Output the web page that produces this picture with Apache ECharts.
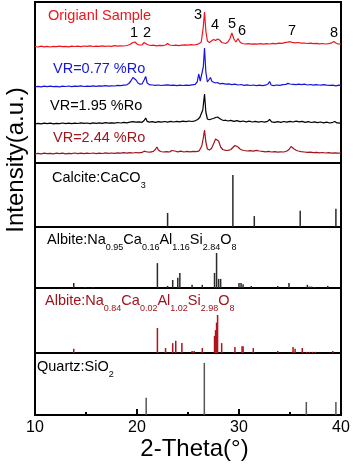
<!DOCTYPE html>
<html>
<head>
<meta charset="utf-8">
<script src="https://cdn.jsdelivr.net/npm/echarts@6/dist/echarts.min.js"></script>
<style>
  html, body { margin: 0; padding: 0; background: #fff; }
  #chart { width: 353px; height: 469px; }
</style>
</head>
<body>
<div id="chart"></div>
<script>
// measured XRD traces: [2-theta, intensity above own baseline]
const originalTrace = [
  [10.0,0.5],[10.3,0],[10.6,0.8],[10.9,0.2],[11.2,0.6],[11.5,0],[11.8,0.7],[12.1,0.3],[12.4,0.9],[12.7,0.4],
  [13.0,0.6],[13.3,0.2],[13.6,0.9],[13.9,0.5],[14.2,0.8],[14.5,0.3],[14.8,1.0],[15.1,0.6],[15.4,1.1],[15.7,0.5],
  [16.0,0.9],[16.3,0.6],[16.6,1.2],[16.9,0.7],[17.2,1.0],[17.5,0.6],[17.8,1.3],[18.1,0.8],[18.4,1.2],[18.7,1.0],
  [19.0,1.5],[19.3,2.5],[19.6,4.5],[19.8,5.0],[20.0,3.0],[20.2,2.0],[20.5,2.2],[20.7,4.5],[20.85,6.0],[21.0,2.5],
  [21.3,1.5],[21.6,1.8],[21.9,1.2],[22.2,1.6],[22.5,1.4],[22.8,2.0],[23.0,3.5],[23.2,2.0],[23.5,1.5],[23.8,1.9],
  [24.1,1.4],[24.4,1.8],[24.7,2.2],[25.0,1.8],[25.3,2.4],[25.6,2.0],[25.9,2.6],[26.1,3.5],[26.3,5],[26.5,20],
  [26.62,35],[26.75,16],[26.9,6],[27.1,4.5],[27.3,6],[27.5,7.5],[27.7,6.5],[27.9,8],[28.1,7],[28.3,4.5],
  [28.5,4],[28.7,3.5],[28.9,5],[29.1,8],[29.3,14],[29.5,8],[29.7,5],[29.9,8.5],[30.1,5],[30.3,3.5],
  [30.6,3],[30.9,3.4],[31.2,2.8],[31.5,3.2],[31.8,2.9],[32.1,3.3],[32.4,2.8],[32.7,3.4],[33.0,3.0],[33.3,3.6],
  [33.6,3.2],[33.9,3.8],[34.2,3.6],[34.5,4.3],[34.8,4.8],[35.0,5.3],[35.2,4.6],[35.5,4.2],[35.8,4.5],[36.1,3.8],
  [36.4,4.0],[36.7,3.5],[37.0,3.8],[37.3,3.3],[37.6,3.7],[37.9,3.1],[38.2,3.5],[38.5,3.0],[38.8,3.4],[39.1,4.2],
  [39.3,5.5],[39.5,4.0],[39.7,3.0],[40.0,3.2]
]

const vr077Trace = [
  [10.0,0],[10.3,0.6],[10.6,0.2],[10.9,0.8],[11.2,0.3],[11.5,0.9],[11.8,0.4],[12.1,0.7],[12.4,0.2],[12.7,0.8],
  [13.0,0.5],[13.3,1.0],[13.6,0.4],[13.9,0.9],[14.2,0.6],[14.5,1.1],[14.8,0.5],[15.1,0.9],[15.4,0.6],[15.7,1.2],
  [16.0,0.7],[16.3,1.1],[16.6,0.8],[16.9,1.3],[17.2,0.9],[17.5,1.2],[17.8,1.0],[18.1,1.6],[18.4,1.3],[18.7,1.8],
  [19.0,2.2],[19.2,3.5],[19.4,6],[19.6,9.5],[19.75,10],[19.9,7],[20.1,4],[20.3,2.8],[20.5,3.2],[20.7,7],
  [20.85,10.5],[21.0,4],[21.2,2.4],[21.5,2.0],[21.8,1.6],[22.1,2.0],[22.4,1.5],[22.7,1.9],[23.0,2.2],[23.3,1.6],
  [23.6,1.9],[23.9,1.4],[24.2,1.8],[24.5,1.5],[24.8,1.9],[25.1,1.6],[25.4,2.2],[25.7,2.6],[25.9,5],[26.05,13],
  [26.2,6],[26.35,4],[26.5,20],[26.62,39],[26.75,15],[26.9,5],[27.05,6],[27.2,9.5],[27.35,5.5],[27.5,6],
  [27.7,4],[27.9,4.5],[28.1,3.2],[28.4,3.6],[28.7,2.8],[29.0,3.1],[29.3,2.4],[29.6,2.9],[29.9,2.0],[30.2,2.5],
  [30.5,1.7],[30.8,2.2],[31.1,1.5],[31.4,2.0],[31.7,1.4],[32.0,1.9],[32.3,1.3],[32.6,1.8],[32.85,3.0],[33.0,5.5],
  [33.15,2.0],[33.4,1.4],[33.7,2.0],[34.0,1.6],[34.3,2.3],[34.6,2.6],[34.8,3.6],[35.0,3.0],[35.3,2.7],[35.6,2.3],
  [35.85,2.8],[36.0,4.5],[36.15,2.4],[36.4,2.8],[36.7,2.0],[37.0,2.5],[37.3,1.8],[37.55,2.4],[37.7,4.0],[37.85,2.0],
  [38.1,1.9],[38.3,2.4],[38.45,3.6],[38.6,1.8],[38.9,1.6],[39.2,1.9],[39.5,1.2],[39.8,1.8],[40.0,1.4]
]

const vr195Trace = [
  [10.0,0],[10.3,0.7],[10.6,0.2],[10.9,0.9],[11.2,0.3],[11.5,0.8],[11.8,0.1],[12.1,0.7],[12.4,0.3],[12.7,1.0],
  [13.0,0.4],[13.3,0.9],[13.6,0.3],[13.9,0.8],[14.2,0.5],[14.5,1.1],[14.8,0.6],[15.1,1.0],[15.4,0.4],[15.7,1.2],
  [16.0,0.7],[16.3,1.1],[16.6,0.6],[16.9,1.3],[17.2,0.8],[17.5,1.2],[17.8,0.9],[18.1,1.5],[18.4,1.0],[18.7,1.6],
  [19.0,1.2],[19.3,1.9],[19.6,2.4],[19.9,1.8],[20.2,2.2],[20.5,1.7],[20.7,3.5],[20.85,6.0],[21.0,2.6],[21.2,1.9],
  [21.5,2.4],[21.8,1.7],[22.1,2.3],[22.4,1.8],[22.7,2.5],[23.0,1.9],[23.3,2.6],[23.6,2.0],[23.9,2.7],[24.2,2.1],
  [24.5,2.8],[24.8,2.3],[25.1,3.0],[25.4,2.5],[25.7,3.2],[25.95,4.5],[26.15,6.5],[26.3,4.5],[26.45,14],[26.62,30],
  [26.75,12],[26.9,5],[27.1,4.2],[27.3,5],[27.5,5.5],[27.7,6.5],[27.9,7],[28.1,5.5],[28.3,4.2],[28.5,3.5],
  [28.7,3.8],[28.9,3.0],[29.2,3.6],[29.5,2.6],[29.8,3.3],[30.1,2.4],[30.4,3.0],[30.7,2.2],[31.0,2.8],[31.3,2.0],
  [31.6,2.6],[31.9,1.9],[32.2,2.5],[32.5,1.8],[32.8,2.6],[33.0,4.5],[33.2,2.1],[33.5,1.6],[33.8,2.4],[34.1,1.7],
  [34.4,2.5],[34.7,1.8],[35.0,2.7],[35.3,2.0],[35.6,2.8],[35.9,2.1],[36.2,2.6],[36.5,1.6],[36.8,2.3],[37.1,1.5],
  [37.4,2.2],[37.7,1.4],[38.0,2.0],[38.3,1.2],[38.6,1.8],[38.9,1.0],[39.2,1.7],[39.4,2.5],[39.6,1.1],[40.0,0.9]
]

const vr244Trace = [
  [10.0,0],[10.3,0.6],[10.6,0.1],[10.9,0.8],[11.2,0.3],[11.5,0.7],[11.8,0.2],[12.1,0.9],[12.4,0.3],[12.7,0.8],
  [13.0,0.2],[13.3,0.7],[13.6,0.4],[13.9,1.0],[14.2,0.4],[14.5,0.9],[14.8,0.3],[15.1,0.8],[15.4,0.5],[15.7,1.0],
  [16.0,0.4],[16.3,0.9],[16.6,0.5],[16.9,1.1],[17.2,0.6],[17.5,1.0],[17.8,0.7],[18.1,1.2],[18.4,0.8],[18.7,1.3],
  [19.0,0.9],[19.3,1.4],[19.6,1.0],[19.9,1.5],[20.2,1.2],[20.5,1.6],[20.7,2.8],[20.85,4],[21.0,2.0],[21.3,1.8],
  [21.6,2.6],[21.8,4.5],[21.95,7],[22.1,4],[22.3,2.5],[22.6,2.0],[22.9,2.4],[23.2,2.0],[23.4,3.5],[23.55,4.5],
  [23.7,3],[24.0,2.2],[24.3,2.8],[24.6,2.0],[24.9,2.6],[25.2,2.2],[25.5,2.7],[25.8,2.4],[26.1,3.2],[26.35,8],
  [26.5,16],[26.62,24],[26.75,12],[26.9,5],[27.1,4],[27.3,5.5],[27.5,10],[27.7,15],[27.85,16],[28.0,13],
  [28.2,7],[28.4,4.5],[28.6,3.8],[28.8,3.5],[29.0,3.8],[29.2,4.5],[29.4,6.5],[29.6,8.5],[29.75,9],[29.9,7],
  [30.1,5],[30.3,4],[30.5,3.5],[30.8,3.0],[31.1,3.3],[31.4,2.8],[31.7,3.6],[31.85,4.2],[32.0,3.0],[32.3,2.6],
  [32.6,2.2],[32.9,2.6],[33.2,2.0],[33.5,2.4],[33.8,1.8],[34.1,2.2],[34.4,2.0],[34.7,3.0],[34.9,4.5],[35.1,7.5],
  [35.25,6.5],[35.4,5],[35.6,3.8],[35.8,3.0],[36.1,2.4],[36.4,2.0],[36.7,1.6],[37.0,1.9],[37.3,1.4],[37.6,1.7],
  [37.9,1.2],[38.2,1.5],[38.5,1.0],[38.8,1.3],[39.1,0.9],[39.4,1.2],[39.7,0.8],[40.0,1.0]
]

// reference patterns: [2-theta, relative intensity %]
const calciteSticks = [[23.0,27],[29.4,100],[31.5,21],[36.0,31],[39.5,35]]

const albite1Sticks = [
  [13.8,14],[14.9,3],[15.7,3],[22.0,71],[23.0,6],[23.5,23],[24.0,29],[24.2,43],[25.4,9],[26.4,9],
  [27.6,43],[27.8,100],[28.0,26],[28.2,26],[30.0,14],[30.2,14],[30.4,11],[31.2,6],[33.8,6],[34.9,14],
  [36.7,9],[36.9,4],[37.1,4],[37.4,3],[38.7,6]
]

const albite2Sticks = [
  [13.8,11],[22.0,66],[22.8,13],[23.5,26],[23.8,32],[24.4,26],[25.4,5],[25.6,5],[26.4,13],[27.6,45],
  [27.7,60],[27.8,80],[27.9,100],[28.3,26],[29.6,16],[30.3,18],[30.4,18],[31.4,13],[33.8,5],[35.3,16],
  [35.5,11],[36.2,13],[36.6,3],[36.9,3],[37.2,3],[37.5,3],[39.2,5]
]

const quartzSticks = [[20.9,33],[26.6,100],[36.6,25],[39.5,25]]

const peakLabels = ['1', '2', '3', '4', '5', '6', '7', '8']
const xTickLabels = [10, 20, 30, 40]

const FONT = '"Liberation Sans", Arial, sans-serif'
const RED = '#f0141c'
const BLUE = '#1515dc'
const DARKRED = '#a0141c'

// vertical offsets of the stacked traces in the top panel
const traceOffsets = [116, 76, 39, 9]

// grid boxes, top to bottom
const panels = [
  { top: 2, height: 161, max: 161 },
  { top: 163, height: 64, max: 123 },
  { top: 227, height: 61, max: 174 },
  { top: 288, height: 65, max: 171 },
  { top: 353, height: 62, max: 119 }
]

function shifted(trace, offset) {
  return trace.map(([x, y]) => [x, y + offset])
}

function richLabel(parts, color) {
  // parts alternate main text / subscript
  const text = parts.map((p, i) => (i % 2 === 0 ? `{m|${p}}` : `{s|${p}}`)).join('')
  return {
    text,
    fill: color,
    fontFamily: FONT,
    verticalAlign: 'middle',
    rich: {
      m: { fontSize: 14.5, lineHeight: 18, fill: color, fontFamily: FONT, verticalAlign: 'middle' },
      s: { fontSize: 9, lineHeight: 9, padding: [15, 0, 0, 0], fill: color, fontFamily: FONT, verticalAlign: 'middle' }
    }
  }
}

function plainText(x, y, text, color, size, align) {
  return {
    type: 'text',
    x, y,
    style: {
      text, fill: color, fontSize: size, fontFamily: FONT,
      align: align || 'left', verticalAlign: 'middle'
    }
  }
}

function buildOption() {
  const grids = panels.map((p) => ({
    left: 35, right: 12, top: p.top, height: p.height,
    show: true, borderColor: '#000', borderWidth: 2, backgroundColor: 'transparent'
  }))

  const xAxes = panels.map((p, i) => {
    const last = i === panels.length - 1
    return {
      type: 'value', gridIndex: i, min: 10, max: 40, interval: 10,
      show: last,
      axisLine: { show: true, lineStyle: { color: '#000', width: 2 } },
      axisTick: { show: true, inside: true, length: 6, lineStyle: { color: '#000', width: 2 } },
      minorTick: { show: true, splitNumber: 2, length: 3, lineStyle: { color: '#000', width: 2 } },
      splitLine: { show: false },
      axisLabel: {
        color: '#000', fontSize: 16, fontFamily: FONT, margin: 5,
        formatter: (v) => (xTickLabels.includes(v) ? String(v) : '')
      },
      name: last ? '2-Theta(°)' : '',
      nameLocation: 'middle',
      nameGap: 22,
      nameTextStyle: { color: '#000', fontSize: 24, fontFamily: FONT, padding: [0, 0, 0, 13] }
    }
  })

  const yAxes = panels.map((p, i) => ({
    type: 'value', gridIndex: i, min: 0, max: p.max, show: false, splitLine: { show: false }
  }))

  const lineSeries = [
    [originalTrace, RED],
    [vr077Trace, BLUE],
    [vr195Trace, '#000'],
    [vr244Trace, DARKRED]
  ].map(([trace, color], i) => ({
    type: 'line', xAxisIndex: 0, yAxisIndex: 0,
    showSymbol: false, silent: true,
    lineStyle: { color, width: 1.2 },
    data: shifted(trace, traceOffsets[i])
  }))

  const stickSeries = [
    [calciteSticks, '#2a2a2a', 1.5],
    [albite1Sticks, '#2a2a2a', 1.5],
    [albite2Sticks, '#b0141e', 1.5],
    [quartzSticks, '#555', 1.5]
  ].map(([sticks, color, w], i) => ({
    type: 'bar', xAxisIndex: i + 1, yAxisIndex: i + 1,
    barWidth: w, silent: true,
    itemStyle: { color },
    data: sticks
  }))

  const peakPos = [[134, 33], [147, 33], [198, 15], [215, 25], [232, 24], [242, 31], [292, 31], [334, 33]]

  const graphic = [
    {
      type: 'text', x: 16, y: 160, rotation: Math.PI / 2,
      style: { text: 'Intensity(a.u.)', fill: '#000', fontSize: 24, fontFamily: FONT, align: 'center', verticalAlign: 'middle' }
    },
    plainText(48, 16, 'Origianl Sample', RED, 14.5),
    plainText(53, 69, 'VR=0.77 %Ro', BLUE, 14.5),
    plainText(50, 106, 'VR=1.95 %Ro', '#000', 14.5),
    plainText(53, 138, 'VR=2.44 %Ro', DARKRED, 14.5),
    { type: 'text', x: 52, y: 178, style: richLabel(['Calcite:CaCO', '3'], '#000') },
    { type: 'text', x: 47, y: 240, style: richLabel(['Albite:Na', '0.95', 'Ca', '0.16', 'Al', '1.16', 'Si', '2.84', 'O', '8'], '#000') },
    { type: 'text', x: 45, y: 301, style: richLabel(['Albite:Na', '0.84', 'Ca', '0.02', 'Al', '1.02', 'Si', '2.98', 'O', '8'], DARKRED) },
    { type: 'text', x: 37, y: 367, style: richLabel(['Quartz:SiO', '2'], '#000') },
    ...peakLabels.map((t, i) => plainText(peakPos[i][0], peakPos[i][1], t, '#000', 14.5, 'center'))
  ]

  return {
    animation: false,
    backgroundColor: '#fff',
    grid: grids,
    xAxis: xAxes,
    yAxis: yAxes,
    series: [...lineSeries, ...stickSeries],
    graphic
  }
}

const chart = echarts.init(document.getElementById('chart'), null, { renderer: 'canvas' })
chart.setOption(buildOption())
</script>
</body>
</html>
